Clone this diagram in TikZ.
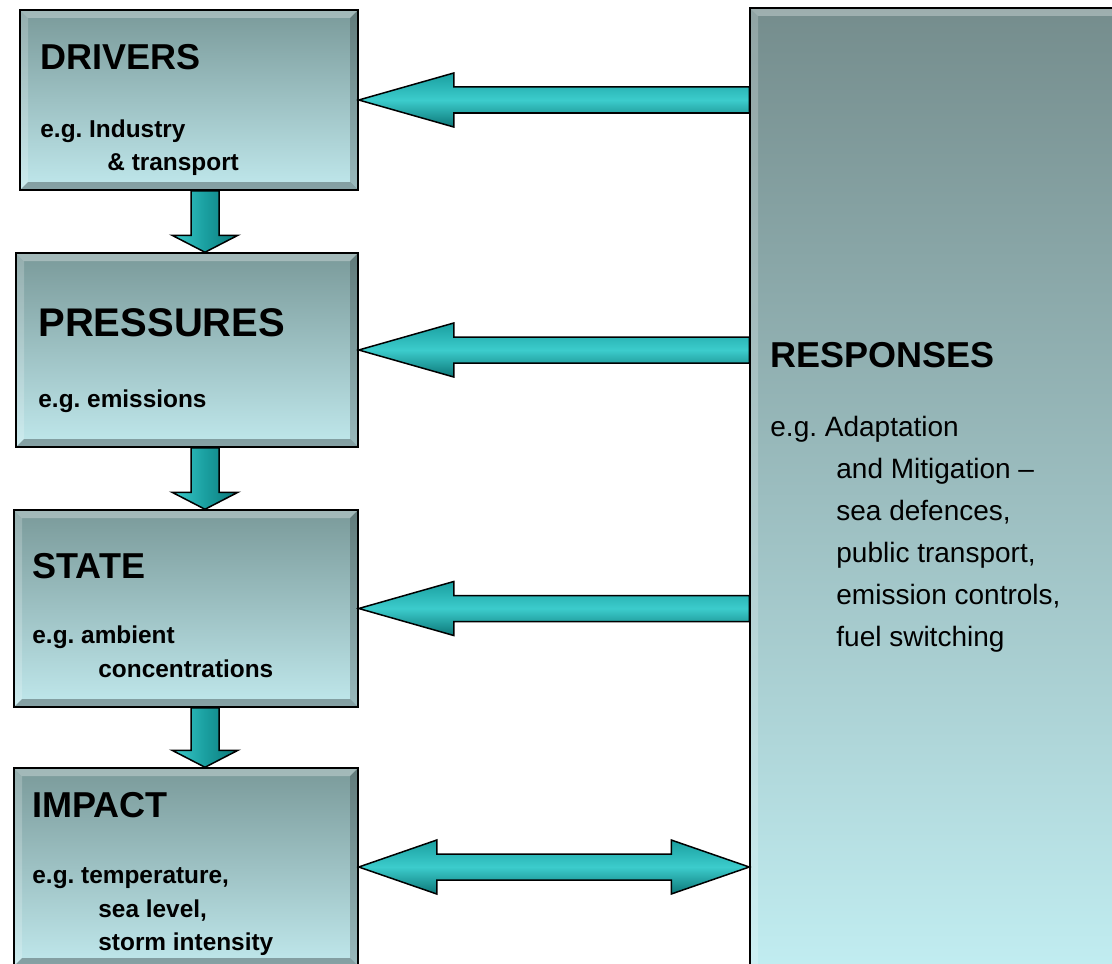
\documentclass[tikz,border=0pt]{standalone}
\usepackage{fontspec}
\setmainfont{Liberation Sans}
\frenchspacing
\usetikzlibrary{positioning}
\usetikzlibrary{fit}
\usetikzlibrary{calc}
\definecolor{boxtop}{HTML}{7A9A9A}
\definecolor{boxbot}{HTML}{C0E8EC}
\definecolor{resptop}{HTML}{758D8D}
\definecolor{respbot}{HTML}{C2EEF2}
\definecolor{arrdark}{HTML}{0C7778}
\definecolor{arrmid}{HTML}{1A9FA0}
\definecolor{arrlight}{HTML}{3CCCCC}
\tikzstyle{bevel} = [path picture={
	\fill[white,opacity=0.3] (path picture bounding box.north west) -- (path picture bounding box.north east) -- ([shift={(-4pt,-4pt)}]path picture bounding box.north east) -- ([shift={(4pt,-4pt)}]path picture bounding box.north west) -- cycle;
	\fill[white,opacity=0.2] (path picture bounding box.north west) -- ([shift={(4pt,-4pt)}]path picture bounding box.north west) -- ([shift={(4pt,4pt)}]path picture bounding box.south west) -- (path picture bounding box.south west) -- cycle;
	\fill[black,opacity=0.2] (path picture bounding box.north east) -- ([shift={(-4pt,-4pt)}]path picture bounding box.north east) -- ([shift={(-4pt,4pt)}]path picture bounding box.south east) -- (path picture bounding box.south east) -- cycle;
	\fill[black,opacity=0.3] (path picture bounding box.south west) -- ([shift={(4pt,4pt)}]path picture bounding box.south west) -- ([shift={(-4pt,4pt)}]path picture bounding box.south east) -- (path picture bounding box.south east) -- cycle;
	}]
\tikzstyle{box} = [rectangle,draw=black,line width=0.75pt,inner sep=0pt,top color=boxtop,bottom color=boxbot,bevel]
\tikzstyle{respbox} = [box,top color=resptop,bottom color=respbot]
\tikzstyle{harrow} = [draw=black,line width=0.75pt,top color=arrmid,bottom color=arrdark,middle color=arrlight]
\tikzstyle{varrow} = [draw=black,line width=0.75pt,left color=arrlight,right color=arrdark,middle color=arrmid]
\tikzstyle{boxtitle} = [anchor=base west,inner sep=0pt,font=\bfseries\fontsize{18}{20}\selectfont]
\tikzstyle{boxtext} = [anchor=base west,inner sep=0pt,font=\bfseries\fontsize{12.2}{14}\selectfont]
\tikzstyle{resptext} = [anchor=base west,inner sep=0pt,font=\fontsize{14}{16}\selectfont]
% block arrow pointing left: #1 tip, #2 tail
\newcommand{\blockleft}[2]{\draw[harrow] (#1) -- ($(#1)+(95,-27)$) -- ($(#1)+(95,-13)$) -- ($(#2)+(0,-13)$) -- ($(#2)+(0,13)$) -- ($(#1)+(95,13)$) -- ($(#1)+(95,27)$) -- cycle;}
% block arrow pointing down: #1 tail, #2 tip
\newcommand{\blockdown}[2]{\draw[varrow] ($(#1)+(-14,0)$) -- ($(#2)+(-14,-17)$) -- ($(#2)+(-33,-17)$) -- (#2) -- ($(#2)+(33,-17)$) -- ($(#2)+(14,-17)$) -- ($(#1)+(14,0)$) -- cycle;}

\begin{document}
\begin{tikzpicture}[x=0.5pt,y=-0.5pt]
	\useasboundingbox (0,0) rectangle (1112,963);
	\clip (0,0) rectangle (1112,963);
	
	\node [box,fit={(20,10) (358,190)}] (drv) {};
	\node [box,fit={(16,253) (358,447)}] (prs) {};
	\node [box,fit={(14,510) (358,707)}] (sta) {};
	\node [box,fit={(14,768) (358,966)}] (imp) {};
	\node [respbox,fit={(750,8) (1130,980)}] (rsp) {};
	%%%%%%%%%%%%%%%
	\node [boxtitle] (drvt) at (40,69) {DRIVERS};
	\node [boxtext] (drv1) at (40,137) {e.g. Industry};
	\node [boxtext] (drv2) at (107,170) {\& transport};
	%----
	\node [boxtitle,font=\bfseries\fontsize{20}{22}\selectfont] (prst) at (38,336) {PRESSURES};
	\node [boxtext] (prs1) at (38,407) {e.g. emissions};
	%----
	\node [boxtitle] (stat) at (32,578) {STATE};
	\node [boxtext] (sta1) at (32,643) {e.g. ambient};
	\node [boxtext] (sta2) at (98,677) {concentrations};
	%----
	\node [boxtitle] (impt) at (32,817) {IMPACT};
	\node [boxtext] (imp1) at (32,883) {e.g. temperature,};
	\node [boxtext] (imp2) at (98,917) {sea level,};
	\node [boxtext] (imp3) at (98,950) {storm intensity};
	%----
	\node [boxtitle] (rspt) at (770,367) {RESPONSES};
	\node [resptext] (rsp1) at (770,436) {e.g. Adaptation};
	\node [resptext] (rsp2) at (836,478) {and Mitigation --};
	\node [resptext] (rsp3) at (836,520) {sea defences,};
	\node [resptext] (rsp4) at (836,562) {public transport,};
	\node [resptext] (rsp5) at (836,604) {emission controls,};
	\node [resptext] (rsp6) at (836,646) {fuel switching};
	%%%%%%%%%%%%%%%
	\coordinate (col) at (205,0);
	\blockdown{col |- drv.south}{col |- prs.north}
	\blockdown{col |- prs.south}{col |- sta.north}
	\blockdown{col |- sta.south}{col |- imp.north}
	%%%%%%%%%%%%%%%
	\blockleft{drv.east}{rsp.west |- drv.east}
	\blockleft{prs.east}{rsp.west |- prs.east}
	\blockleft{sta.east}{rsp.west |- sta.east}
	\draw [harrow] (imp.east) -- ($(imp.east)+(78,-27)$) -- ($(imp.east)+(78,-13)$) -- ($(rsp.west |- imp.east)+(-78,-13)$) -- ($(rsp.west |- imp.east)+(-78,-27)$) -- (rsp.west |- imp.east) -- ($(rsp.west |- imp.east)+(-78,27)$) -- ($(rsp.west |- imp.east)+(-78,13)$) -- ($(imp.east)+(78,13)$) -- ($(imp.east)+(78,27)$) -- cycle;
	
\end{tikzpicture}
\end{document}
